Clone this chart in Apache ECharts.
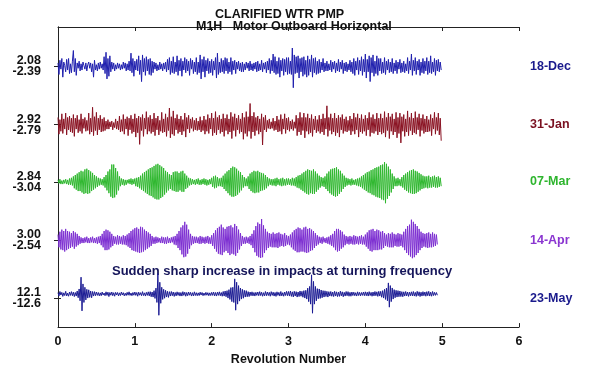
<!DOCTYPE html>
<html>
<head>
<meta charset="utf-8">
<script src="https://cdn.jsdelivr.net/npm/echarts@6/dist/echarts.min.js"></script>
<style>html,body{margin:0;padding:0;background:#fff}#c{width:600px;height:371px}</style>
</head>
<body>
<div id="c"></div>
<script>
// ---- data ----
const revStep = 0.0125;
const dates = ['18-Dec', '31-Jan', '07-Mar', '14-Apr', '23-May'];
const peakMax = [2.08, 2.92, 2.84, 3.00, 12.1];
const peakMin = [-2.39, -2.79, -3.04, -2.54, -12.6];
const maxLabels = ['2.08', '2.92', '2.84', '3.00', '12.1'];
const minLabels = ['-2.39', '-2.79', '-3.04', '-2.54', '-12.6'];
const xTickLabels = ['0', '1', '2', '3', '4', '5', '6'];

const wave18Dec = [
0.4,-0.9,0.7,-0.3,0.9,-1.2,0.5,0.1,-0.6,0.8,-0.4,0.9,-0.8,0.3,-0.7,0.6,
1.8,-0.6,0.9,-1.0,0.4,-0.2,0.6,-0.5,0.3,-0.4,0.5,0.1,-0.3,0.4,-0.5,0.2,
0.5,-0.2,0.4,-0.6,0.3,-1.2,0.7,-0.4,0.2,-0.5,0.4,-0.3,0.5,-0.2,0.3,-0.4,
1.1,-0.8,1.6,-1.4,0.9,-1.1,1.2,-0.6,0.5,-0.3,0.4,-0.5,0.2,-0.3,0.4,-0.2,
0.3,-0.4,0.2,-0.3,0.5,-0.2,0.4,-0.5,0.3,-0.4,0.6,-0.5,1.5,-0.7,0.9,-1.1,
0.6,-0.4,0.8,-0.5,1.2,-0.9,0.7,-1.7,1.3,-0.6,0.9,-1.0,1.1,-0.5,0.8,-0.9,
0.9,-1.0,0.6,-0.7,0.5,-0.3,0.4,-0.5,0.2,-0.4,0.5,-0.3,0.3,-0.5,0.4,-0.3,
0.5,-0.6,0.8,-0.4,1.0,-0.9,0.6,-0.7,1.1,-0.8,0.5,-0.6,1.2,-1.0,0.7,-0.5,
0.9,-1.1,0.6,-0.4,1.0,-0.7,0.8,-0.5,0.6,-1.0,0.9,-0.3,0.7,-0.8,0.5,-0.6,
1.0,-0.9,0.5,-0.7,1.3,-1.4,0.8,-0.6,1.1,-1.2,0.7,-0.5,0.9,-0.8,0.6,-0.7,
0.8,-1.0,0.6,-0.4,1.0,-1.3,1.5,-0.9,0.5,-0.7,0.9,-0.6,0.7,-0.8,1.0,-0.5,
0.9,-0.8,0.5,-0.6,1.0,-0.9,0.6,-0.4,0.7,-0.8,0.5,-0.3,0.6,-0.5,0.4,-0.6,
0.5,-0.6,0.3,-0.4,0.5,-0.2,0.4,-0.5,0.6,-0.4,0.3,-0.5,0.4,-0.3,0.5,-0.6,
0.6,-0.5,0.3,-0.4,0.7,-0.6,0.4,-0.3,0.5,-0.7,0.6,-0.4,0.9,-0.8,0.7,-0.5,
1.4,-0.7,1.1,-0.9,0.6,-0.8,1.0,-1.2,0.7,-0.5,0.9,-1.0,0.8,-0.6,1.0,-0.9,
1.0,-0.8,0.6,-0.9,2.08,-2.39,1.3,-0.8,1.1,-0.7,1.2,-1.3,0.9,-0.6,1.0,-1.1,
1.1,-0.9,0.7,-1.2,1.2,-1.0,0.8,-0.6,1.3,-1.2,0.9,-0.7,1.0,-0.9,0.6,-0.8,
0.8,-0.7,0.5,-0.4,0.9,-0.6,0.4,-0.5,0.6,-0.5,0.3,-0.4,0.7,-0.6,0.5,-0.3,
0.6,-0.7,0.4,-0.5,0.8,-0.6,0.5,-0.3,0.7,-0.8,0.4,-0.5,0.5,-0.6,0.3,-0.4,
0.7,-0.6,0.5,-0.8,0.9,-1.0,0.6,-0.4,1.0,-0.9,0.7,-0.5,1.1,-1.0,0.8,-0.6,
1.4,-1.3,0.8,-0.6,1.2,-1.7,1.0,-0.7,1.3,-1.1,0.6,-0.8,1.2,-1.0,0.9,-0.5,
0.9,-0.8,0.5,-0.7,1.0,-0.9,0.6,-0.4,0.8,-0.7,0.5,-0.6,0.9,-0.8,0.4,-0.5,
0.7,-0.8,0.5,-0.3,0.8,-0.7,0.4,-0.6,0.6,-0.7,0.3,-0.5,1.0,-0.8,0.6,-0.4,
1.4,-1.0,0.7,-0.5,1.0,-0.9,0.6,-0.4,0.8,-1.0,0.5,-0.7,0.9,-0.8,0.6,-0.5,
1.0,-0.9,0.6,-0.7,1.2,-0.8,0.5,-0.6,0.9,-1.0,0.7,-0.5,0.8,-0.6,0.5,-0.4
];
const wave31Jan = [
1.0,-1.3,0.7,-0.9,1.5,-1.2,0.8,-0.6,1.6,-1.4,1.0,-0.7,1.2,-1.0,0.9,-1.1,
1.4,-1.6,0.9,-0.6,1.3,-1.1,0.7,-0.9,1.5,-1.2,0.8,-0.5,1.0,-0.9,0.6,-0.8,
1.6,-1.3,0.9,-1.0,2.4,-1.5,1.1,-0.8,1.7,-1.4,0.9,-0.7,1.3,-1.0,0.8,-0.9,
1.0,-0.8,0.5,-0.6,0.7,-0.6,0.4,-0.3,0.5,-0.7,0.3,-0.4,0.8,-0.6,0.5,-0.7,
1.2,-1.0,0.7,-0.9,1.4,-1.3,0.8,-0.6,1.1,-1.5,0.9,-0.7,1.3,-1.2,0.8,-1.0,
1.5,-1.7,0.9,-1.1,1.2,-2.7,1.0,-0.8,1.4,-1.6,0.9,-0.6,1.8,-1.3,1.0,-0.9,
1.3,-1.2,0.8,-1.0,1.6,-1.5,0.9,-0.7,1.2,-1.4,0.6,-0.9,1.7,-1.1,0.8,-1.0,
1.5,-1.6,1.0,-0.8,2.3,-1.8,1.1,-1.3,1.9,-1.5,0.9,-0.7,1.4,-1.2,0.8,-1.0,
1.2,-1.4,0.7,-0.9,1.6,-1.7,1.0,-0.6,1.3,-1.1,0.8,-0.5,1.0,-0.9,0.6,-0.7,
0.9,-0.8,0.5,-0.7,1.1,-1.0,0.6,-0.8,1.2,-1.3,0.7,-0.9,1.4,-1.2,0.9,-0.6,
1.6,-1.5,0.9,-1.1,1.8,-1.4,1.0,-0.7,1.3,-1.2,0.8,-1.0,1.5,-1.6,0.9,-0.8,
1.4,-1.3,0.8,-1.0,1.7,-1.9,1.1,-0.8,1.5,-1.6,0.9,-0.7,1.3,-1.2,0.8,-1.0,
1.6,-2.0,1.0,-1.2,1.8,-1.6,1.1,-0.9,2.92,-1.9,1.2,-1.0,1.7,-1.5,1.0,-0.8,
1.2,-1.3,0.8,-1.0,1.5,-2.79,1.0,-0.7,1.3,-1.0,0.6,-0.5,0.8,-0.6,0.4,-0.5,
0.9,-0.8,0.5,-0.7,1.2,-1.0,0.7,-0.9,1.4,-1.3,0.8,-0.6,1.5,-1.2,0.9,-0.7,
1.0,-0.9,0.5,-0.6,0.7,-0.8,0.4,-0.5,1.3,-1.5,0.9,-1.0,1.7,-1.4,1.0,-0.8,
1.6,-1.8,1.0,-0.9,1.5,-1.3,0.9,-1.1,1.4,-1.6,0.8,-0.7,1.2,-1.1,0.7,-0.9,
1.3,-1.2,0.8,-1.0,1.5,-1.4,0.9,-0.6,2.6,-1.6,1.0,-0.8,1.5,-1.3,0.9,-1.0,
1.6,-1.5,0.9,-1.1,1.3,-1.7,1.0,-0.7,1.4,-1.2,0.8,-0.9,1.1,-1.0,0.6,-0.8,
1.2,-1.4,0.8,-0.9,1.6,-1.3,1.0,-0.7,1.5,-1.7,0.9,-1.0,1.4,-1.2,0.8,-0.9,
1.3,-1.5,0.9,-0.7,1.7,-1.6,1.0,-1.1,1.4,-1.2,0.8,-0.9,1.6,-1.4,0.9,-1.0,
1.5,-1.3,0.9,-1.1,1.8,-1.7,1.0,-0.8,1.6,-1.9,1.1,-0.9,1.5,-1.4,0.8,-1.0,
1.7,-1.8,1.0,-1.2,1.6,-2.5,1.1,-0.9,1.4,-1.6,0.8,-1.0,1.9,-1.5,1.0,-0.8,
1.6,-1.4,0.9,-1.1,1.8,-1.3,1.0,-0.7,1.5,-1.6,0.9,-0.8,1.4,-1.2,0.8,-1.0,
1.2,-1.0,0.7,-0.9,1.4,-1.5,0.9,-0.6,1.7,-1.3,1.0,-0.8,1.6,-1.4,0.9,-2.2
];
const wave07Mar = [
0.3,-0.2,0.4,-0.3,0.2,-0.3,0.3,-0.2,0.4,-0.3,0.3,-0.4,0.5,-0.4,0.6,-0.5,
0.8,-0.9,1.0,-1.1,1.2,-1.3,1.4,-1.3,1.6,-1.5,1.5,-1.7,1.8,-1.6,1.9,-1.7,
1.7,-1.6,1.5,-1.3,1.3,-1.1,1.0,-0.9,0.8,-0.7,0.6,-0.5,0.5,-0.4,0.4,-0.5,
0.7,-0.8,1.0,-1.2,1.5,-1.6,1.8,-2.1,2.5,-2.3,2.5,-2.2,2.0,-1.8,1.5,-1.2,
0.8,-0.6,0.5,-0.4,0.4,-0.5,0.3,-0.4,0.3,-0.2,0.4,-0.3,0.5,-0.4,0.4,-0.3,
0.5,-0.6,0.6,-0.7,0.7,-0.9,0.9,-1.1,1.2,-1.3,1.4,-1.5,1.6,-1.7,1.8,-1.9,
2.0,-2.0,2.1,-2.2,2.3,-2.4,2.5,-2.5,2.6,-2.5,2.4,-2.3,2.2,-2.1,2.0,-1.8,
1.6,-1.5,1.4,-1.2,1.1,-1.0,1.0,-1.2,1.4,-1.3,1.5,-1.4,1.5,-1.4,1.3,-1.2,
1.5,-1.4,1.6,-1.4,1.2,-1.0,0.9,-0.8,0.6,-0.5,0.5,-0.4,0.4,-0.3,0.3,-0.4,
0.4,-0.3,0.5,-0.4,0.3,-0.4,0.4,-0.3,0.5,-0.4,0.4,-0.5,0.3,-0.4,0.4,-0.3,
0.6,-0.7,0.8,-0.9,0.9,-0.8,0.7,-0.6,0.5,-0.6,0.6,-0.7,0.9,-1.0,1.2,-1.3,
1.5,-1.6,1.7,-1.9,2.0,-2.1,2.2,-2.1,2.1,-2.0,1.9,-1.8,1.6,-1.5,1.4,-1.2,
1.0,-0.8,0.7,-0.6,0.5,-0.6,0.8,-1.0,1.2,-1.3,1.4,-1.5,1.6,-1.6,1.5,-1.5,
1.6,-1.5,1.4,-1.3,1.3,-1.2,1.2,-1.1,1.0,-0.9,0.7,-0.6,0.5,-0.4,0.4,-0.5,
0.4,-0.5,0.5,-0.6,0.6,-0.4,0.4,-0.5,0.5,-0.6,0.6,-0.5,0.4,-0.5,0.5,-0.4,
0.5,-0.4,0.4,-0.5,0.6,-0.5,0.5,-0.6,0.7,-0.8,0.9,-0.9,1.0,-1.1,1.2,-1.3,
1.4,-1.5,1.6,-1.7,1.8,-1.8,1.7,-1.6,1.6,-1.7,1.8,-1.7,1.5,-1.4,1.2,-1.1,
0.9,-0.8,0.7,-0.6,0.6,-0.7,0.8,-1.0,1.2,-1.3,1.5,-1.6,1.8,-1.8,1.9,-2.0,
2.0,-2.1,2.1,-2.0,1.8,-1.7,1.6,-1.4,1.2,-1.0,0.9,-0.7,0.6,-0.5,0.5,-0.4,
0.4,-0.5,0.5,-0.4,0.3,-0.4,0.4,-0.5,0.5,-0.6,0.6,-0.7,0.8,-0.9,1.0,-1.1,
1.2,-1.3,1.4,-1.5,1.5,-1.6,1.7,-1.8,1.8,-1.9,2.0,-2.1,2.1,-2.2,2.2,-2.3,
2.4,-2.5,2.5,-2.6,2.84,-3.04,2.6,-2.4,2.2,-2.0,1.8,-1.5,1.2,-1.0,0.8,-0.6,
0.5,-0.6,0.6,-0.5,0.4,-0.6,0.7,-0.8,1.0,-1.1,1.2,-1.3,1.4,-1.5,1.6,-1.6,
1.7,-1.7,1.8,-1.7,1.6,-1.6,1.5,-1.4,1.3,-1.2,1.1,-1.0,0.9,-0.9,0.8,-0.8,
0.8,-0.9,0.9,-0.8,0.7,-0.8,0.8,-0.7,0.9,-0.8,0.7,-0.8,0.8,-0.7,0.6,-0.6
];
const wave14Apr = [
0.8,-1.0,1.2,-1.3,1.5,-1.4,1.3,-1.6,1.6,-1.4,1.3,-1.2,1.2,-1.1,1.0,-0.9,
1.3,-1.2,1.1,-0.9,0.9,-0.7,0.6,-0.5,0.4,-0.4,0.3,-0.4,0.4,-0.3,0.5,-0.4,
0.3,-0.4,0.4,-0.3,0.5,-0.4,0.3,-0.4,0.4,-0.5,0.5,-0.4,0.6,-0.7,0.9,-1.0,
1.3,-1.4,1.5,-1.4,1.4,-1.3,1.2,-1.0,0.9,-0.8,0.6,-0.5,0.5,-0.6,0.7,-0.6,
0.6,-0.5,0.5,-0.6,0.7,-0.6,0.6,-0.7,0.8,-0.9,1.0,-1.1,1.3,-1.4,1.5,-1.5,
1.7,-1.6,1.8,-1.7,1.6,-1.8,1.9,-1.7,1.8,-1.6,1.5,-1.4,1.3,-1.2,1.1,-1.0,
0.9,-0.8,0.6,-0.5,0.4,-0.5,0.5,-0.4,0.4,-0.3,0.3,-0.4,0.5,-0.4,0.4,-0.5,
0.4,-0.5,0.5,-0.4,0.3,-0.4,0.4,-0.3,0.5,-0.6,0.6,-0.7,0.9,-1.1,1.3,-1.4,
1.8,-2.0,2.1,-2.4,2.6,-2.3,2.2,-1.9,1.5,-1.2,0.9,-0.7,0.6,-0.5,0.5,-0.4,
0.5,-0.4,0.4,-0.5,0.6,-0.5,0.5,-0.4,0.4,-0.5,0.5,-0.4,0.6,-0.5,0.4,-0.5,
0.7,-0.8,1.0,-1.2,1.4,-1.6,1.7,-1.9,1.9,-2.0,2.2,-2.1,1.8,-1.7,1.6,-1.5,
1.9,-1.8,2.0,-2.1,2.1,-1.9,1.8,-2.0,2.3,-2.2,2.0,-1.8,1.5,-1.3,1.0,-0.8,
0.6,-0.5,0.4,-0.5,0.5,-0.4,0.4,-0.5,0.6,-0.7,0.9,-1.1,1.4,-1.7,2.0,-2.2,
2.5,-2.4,2.3,-2.5,3.0,-2.4,2.1,-1.8,1.6,-1.4,1.2,-1.1,1.0,-0.9,0.9,-1.0,
1.1,-1.0,0.9,-1.0,1.0,-1.1,1.1,-0.9,0.9,-0.8,0.8,-0.9,1.0,-0.8,0.7,-0.6,
0.6,-0.7,0.8,-1.0,1.1,-1.3,1.4,-1.5,1.6,-1.7,1.8,-1.7,1.7,-1.6,1.5,-1.6,
1.8,-1.7,1.9,-1.8,1.6,-1.7,1.7,-1.5,1.5,-1.4,1.3,-1.1,1.0,-0.8,0.7,-0.6,
0.5,-0.4,0.4,-0.5,0.5,-0.3,0.3,-0.4,0.4,-0.5,0.5,-0.6,0.7,-0.8,0.9,-1.0,
1.3,-1.4,1.6,-1.6,1.6,-1.5,1.4,-1.2,1.2,-1.0,0.8,-0.7,0.6,-0.5,0.5,-0.6,
0.6,-0.5,0.5,-0.6,0.7,-0.6,0.6,-0.5,0.5,-0.6,0.6,-0.5,0.7,-0.6,0.5,-0.6,
0.8,-0.9,1.1,-1.2,1.4,-1.5,1.5,-1.6,1.6,-1.4,1.3,-1.4,1.5,-1.4,1.4,-1.3,
1.2,-1.3,1.3,-1.1,1.0,-0.8,0.8,-0.9,1.0,-1.0,0.9,-1.0,1.1,-1.0,0.9,-0.8,
0.8,-0.9,1.0,-0.9,0.9,-0.8,0.8,-1.0,1.2,-1.4,1.6,-1.8,2.0,-2.1,2.2,-2.3,
2.9,-2.54,2.6,-2.4,2.3,-2.1,2.0,-1.8,1.6,-1.4,1.2,-1.1,1.0,-0.9,0.9,-1.0,
1.0,-1.1,1.1,-1.0,0.9,-1.0,1.1,-0.9,0.9,-0.8,0.8,-0.6
];
const wave23May = [
0.8,-1.2,1.5,-0.6,1.0,-1.4,0.7,-0.9,1.6,-1.1,0.5,-1.3,1.2,-0.8,1.4,-1.0,
1.1,-1.5,0.9,-1.2,1.8,-2.2,3.0,-4.0,10.0,-10.0,6.0,-5.0,4.0,-3.5,2.8,-2.4,
2.5,-2.0,1.8,-2.2,1.5,-1.2,1.4,-1.0,1.2,-0.8,0.9,-1.1,0.7,-1.0,1.2,-0.6,
0.6,-1.0,1.3,-0.8,1.1,-1.5,0.9,-0.7,1.2,-1.0,0.8,-1.3,1.0,-0.6,0.9,-1.1,
0.7,-0.9,1.2,-0.6,0.8,-1.1,0.5,-0.9,1.0,-0.7,1.3,-0.8,0.6,-1.0,0.9,-0.7,
1.2,-0.8,0.9,-1.3,1.1,-0.7,0.8,-1.0,1.4,-0.9,0.7,-1.2,1.0,-0.8,1.3,-1.1,
1.4,-1.6,1.2,-1.8,2.0,-2.6,3.5,-5.0,12.1,-12.6,7.0,-5.5,4.0,-3.2,2.8,-2.5,
2.2,-1.8,1.6,-2.0,1.4,-1.2,1.5,-1.0,1.2,-1.4,0.9,-1.1,1.3,-0.8,1.0,-1.2,
0.9,-1.2,1.4,-0.8,1.1,-1.3,0.9,-1.0,1.2,-0.7,1.0,-1.2,0.8,-1.1,1.3,-0.9,
0.8,-1.0,0.7,-0.9,1.1,-0.6,0.9,-1.0,0.6,-0.8,1.0,-0.7,0.8,-1.0,0.7,-0.9,
1.0,-0.8,1.2,-1.1,0.9,-1.2,1.1,-0.8,1.3,-1.0,0.9,-1.3,1.5,-1.2,1.8,-1.6,
2.0,-2.4,2.6,-3.2,3.8,-4.5,4.0,-5.0,9.0,-9.6,7.0,-6.0,5.0,-4.2,3.5,-3.0,
2.8,-2.5,2.2,-1.8,2.0,-1.6,1.4,-1.5,1.2,-1.0,1.3,-1.1,0.9,-1.2,1.0,-0.8,
1.2,-1.0,1.4,-0.9,1.1,-1.3,0.8,-1.1,1.5,-1.0,1.2,-0.9,1.0,-1.3,1.4,-0.8,
1.1,-1.2,0.9,-1.4,1.3,-0.8,1.0,-1.2,1.5,-1.1,0.8,-1.3,1.2,-0.9,1.6,-1.0,
1.5,-1.2,1.8,-1.4,1.3,-1.7,1.6,-1.2,1.4,-1.8,1.2,-1.5,1.8,-1.3,1.6,-1.9,
2.0,-2.4,2.2,-3.0,3.5,-4.5,4.5,-6.0,11.4,-11.4,7.5,-6.0,4.5,-4.0,3.2,-2.8,
3.0,-2.6,2.4,-2.2,2.0,-1.8,1.9,-1.5,1.6,-1.8,1.4,-1.2,1.5,-1.3,1.2,-1.5,
1.6,-1.2,1.3,-1.5,1.1,-1.4,1.7,-1.1,1.3,-1.6,1.0,-1.2,1.5,-1.0,1.4,-1.3,
1.0,-1.3,1.2,-0.9,1.1,-1.0,0.8,-1.2,1.3,-0.9,1.0,-1.1,0.9,-0.8,1.2,-1.0,
1.3,-1.0,1.1,-1.2,1.4,-0.9,1.0,-1.3,1.2,-1.1,1.5,-1.0,1.3,-1.4,1.6,-1.2,
1.6,-1.9,2.0,-2.4,2.8,-3.2,3.5,-4.0,6.6,-7.8,5.0,-4.5,3.6,-3.0,2.6,-2.2,
2.2,-1.8,2.0,-1.6,1.8,-1.5,1.4,-1.6,1.3,-1.2,1.5,-1.1,1.2,-1.4,1.1,-1.0,
1.3,-1.1,1.5,-1.2,1.0,-1.4,1.6,-1.0,1.3,-1.5,1.1,-1.2,1.4,-1.0,1.2,-1.3,
1.4,-1.0,1.6,-1.2,1.1,-1.3,1.5,-0.9,1.0,-0.8,0.9,-0.7
];
const waves = [wave18Dec, wave31Jan, wave07Mar, wave14Apr, wave23May];

// ---- layout / style ----
const lineColors = ['#1f1fae', '#8a1222', '#2fb82f', '#7d2fd2', '#1c1c94'];
const dateColors = ['#1a1a8c', '#7a1020', '#2eb52e', '#8a35d0', '#1a1a8c'];
const centers = [264, 205, 147, 88, 29];   // band centres (axis units)
const baseShift = [0, 0, 0, 0, 4.5];
const halfBand = 21.5;

const series = waves.map((w, i) => {
  const k = halfBand / Math.max(peakMax[i], -peakMin[i]);
  return {
    type: 'line',
    name: dates[i],
    showSymbol: false,
    symbol: 'none',
    sampling: null,
    animation: false,
    lineStyle: { width: 1, color: lineColors[i] },
    data: w.map((v, j) => [j * revStep, centers[i] + baseShift[i] + v * k])
  };
});

const chart = echarts.init(document.getElementById('c'), null, { renderer: 'canvas' });
const FS = 12.5;
const bold = { fontFamily: 'Liberation Sans, Arial, sans-serif', fontWeight: 'bold' };
const yBase = {
  type: 'value', min: 0, max: 304,
  splitLine: { show: false },
  axisLine: { show: true, lineStyle: { color: '#222', width: 1 } }
};
chart.setOption({
  animation: false,
  backgroundColor: '#fff',
  title: [
    { text: 'CLARIFIED WTR PMP', left: 215, top: 8.5, padding: 0,
      textStyle: Object.assign({ fontSize: FS, color: '#111' }, bold) },
    { text: 'M1H   Motor Outboard Horizontal', left: 196, top: 20, padding: 0,
      textStyle: Object.assign({ fontSize: FS, color: '#111' }, bold) }
  ],
  grid: { left: 58, right: 81, top: 27, bottom: 40, containLabel: false },
  xAxis: [
    { type: 'value', min: 0, max: 6, interval: 1, position: 'bottom',
      name: 'Revolution Number', nameLocation: 'middle', nameGap: 17,
      nameTextStyle: Object.assign({ fontSize: FS, color: '#111' }, bold),
      axisLine: { show: true, onZero: false, lineStyle: { color: '#222' } },
      axisTick: { show: true, inside: true, length: 4, lineStyle: { color: '#222' } },
      axisLabel: Object.assign({ fontSize: FS, color: '#111', margin: 8,
        formatter: v => xTickLabels[Math.round(v)] }, bold),
      splitLine: { show: false } },
    { type: 'value', min: 0, max: 6, interval: 1, position: 'top',
      axisLine: { show: true, onZero: false, lineStyle: { color: '#222' } },
      axisTick: { show: true, inside: true, length: 4, lineStyle: { color: '#222' } },
      axisLabel: { show: false }, splitLine: { show: false } }
  ],
  yAxis: [
    Object.assign({}, yBase, {
      position: 'left',
      axisTick: { show: true, length: 4, customValues: centers, lineStyle: { color: '#222' } },
      axisLabel: Object.assign({
        customValues: centers, margin: 17, fontSize: FS, color: '#111', lineHeight: 11,
        padding: [3, 0, 0, 0],
        formatter: v => { const i = centers.indexOf(v); return i < 0 ? '' : maxLabels[i] + '\n' + minLabels[i]; }
      }, bold)
    }),
    Object.assign({}, yBase, {
      position: 'right',
      axisTick: { show: true, length: 3, customValues: centers, lineStyle: { color: '#222' } },
      axisLabel: Object.assign({
        customValues: centers, margin: 11, fontSize: FS,
        formatter: v => { const i = centers.indexOf(v); return i < 0 ? '' : '{d' + i + '|' + dates[i] + '}'; },
        rich: Object.fromEntries(dates.map((d, i) => ['d' + i, Object.assign({ color: dateColors[i], fontSize: FS }, bold)]))
      }, bold)
    })
  ],
  graphic: [
    { type: 'text', left: 112, top: 264.5,
      style: Object.assign({ text: 'Sudden sharp increase in impacts at turning frequency',
        fill: '#15155a', fontSize: 13 }, bold) }
  ],
  series: series
});
</script>
</body>
</html>
